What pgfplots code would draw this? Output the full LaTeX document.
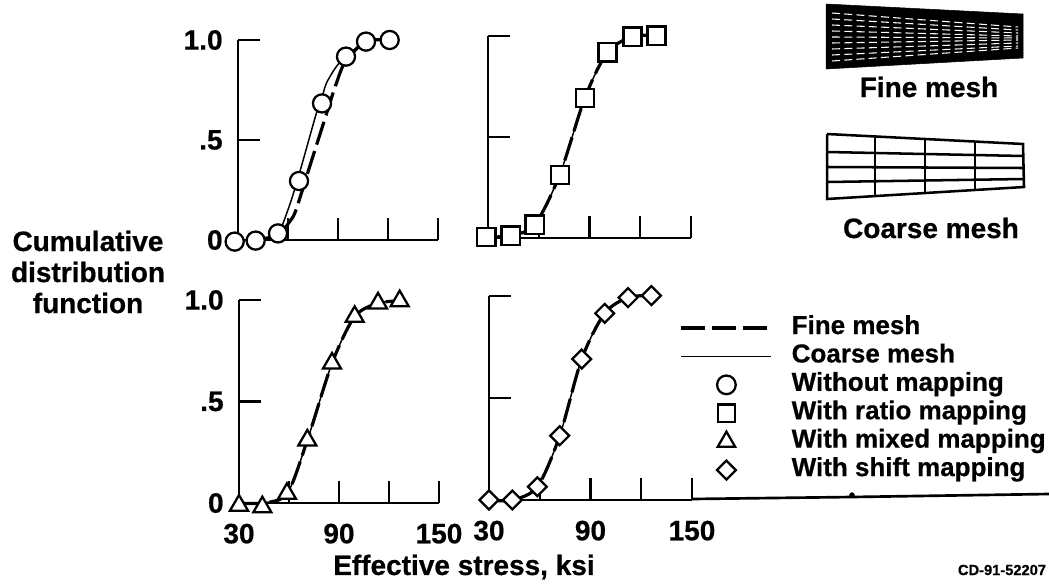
\documentclass[border=0pt]{standalone}
\usepackage{fontspec}
\setmainfont{Liberation Sans}[BoldFeatures={FakeBold=0.6}]
\usepackage{pgfplots}
\pgfplotsset{compat=1.18}

% 1 px of the reference = 0.75pt, y counted up from the bottom of the page (586 - py)
\pgfplotsset{
  panel/.style={
    scale only axis,
    width=150pt, height=150pt,
    xmin=30, xmax=150, ymin=0, ymax=1,
    clip=false, axis on top,
    axis x line=bottom, axis y line=left,
    axis line style={-, line width=2pt},
    tick style={black, line width=1.7pt},
    tick align=inside,
    major tick length=16.5pt,
    ytick={0,0.5,1}, yticklabels={0,.5,1.0},
    xtick={30,60,90,120,150}, xticklabels={},
    tick label style={font=\fontsize{21}{21}\selectfont\bfseries},
    yticklabel style={xshift=-8pt},
    xticklabel style={yshift=-12pt},
  },
  lower/.style={xticklabels={30,,90,,150}},
  nolabels/.style={yticklabels={}},
  coarse/.style={smooth, black, line width=1.1pt, no marks, forget plot},
  fine/.style={smooth, black, line width=2.4pt, no marks, forget plot,
    dash pattern=on 18pt off 5pt},
  pts/.style={only marks, black, line width=1.7pt, mark options={fill=white}, forget plot},
}

\begin{document}
\begin{tikzpicture}[x=0.75pt,y=0.75pt]
\useasboundingbox (0,0) rectangle (1049,586);

% without mapping
\begin{axis}[panel, at={(178.5pt,259.5pt)}, anchor=south west]
\addplot[coarse] coordinates {(28,0) (40.6,0) (54,0.03) (57,0.083) (62,0.2) (66,0.31) (68,0.367) (77,0.633) (80,0.70) (83,0.783) (89,0.867) (94.8,0.917) (106.8,0.992) (121,1)};
\addplot[fine] coordinates {(40.6,0) (54,0.025) (61,0.092) (64,0.133) (68,0.233) (73,0.367) (80,0.55) (86,0.708) (89,0.783) (94.4,0.892) (106.6,0.992) (121,1)};
\addplot[pts, mark=*, mark size=6.8pt] coordinates {(28,-0.008) (40.6,-0.003) (54,0.033) (66.6,0.295) (80.4,0.683) (94.8,0.917) (106.8,0.992) (121,1)};
\end{axis}

% ratio mapping
\begin{axis}[panel, nolabels, at={(366pt,261pt)}, anchor=south west, width=152.25pt, height=151.5pt]
\addplot[coarse] coordinates {(29,0.005) (43.4,0.012) (57.6,0.066) (72.4,0.313) (87.2,0.692) (100.6,0.919) (115.4,0.997) (129.6,1.002)};
\addplot[fine] coordinates {(29,0.005) (43.4,0.012) (57.6,0.066) (72.4,0.313) (87.2,0.692) (100.6,0.919) (115.4,0.997) (129.6,1.002)};
\addplot[pts, mark=square*, mark size=6.8pt] coordinates {(29,0.005) (43.4,0.012) (57.6,0.066) (72.4,0.313) (87.2,0.692) (100.6,0.919) (115.4,0.997) (129.6,1.002)};
\end{axis}

% mixed mapping
\begin{axis}[panel, lower, at={(179.25pt,62.25pt)}, anchor=south west, height=152.25pt]
\addplot[coarse] coordinates {(30,0) (44,0) (58.8,0.046) (71,0.309) (85.8,0.688) (99.4,0.918) (113.4,0.984) (126.4,0.995)};
\addplot[fine] coordinates {(30,0) (44,0) (58.8,0.046) (71,0.309) (85.8,0.688) (99.4,0.918) (113.4,0.984) (126.4,0.995)};
\addplot[pts, mark=triangle*, mark size=7.8pt] coordinates {(30,-0.012) (44,-0.02) (58.8,0.046) (71,0.309) (85.8,0.688) (99.4,0.918) (113.4,0.984) (126.4,0.995)};
\end{axis}

% shift mapping, carries the legend
\begin{axis}[panel, lower, nolabels, at={(366.75pt,64.5pt)}, anchor=south west, width=152.25pt, height=153pt,
  legend style={at={(rel axis cs:0.94,0.905)}, anchor=north west, draw=none, fill=none,
    inner sep=0pt, outer sep=0pt, row sep=2.3pt, column sep=12pt, legend cell align=left,
    font=\fontsize{19.5}{21}\selectfont\bfseries,
    nodes={inner ysep=0pt, text height=14pt, text depth=5pt}},
  legend image code/.code={\draw[mark repeat=2,mark phase=2,#1] plot coordinates {(0pt,0pt) (33.75pt,0pt) (67.5pt,0pt)};}]
\addplot[coarse] coordinates {(30,0) (43.8,0) (58.6,0.065) (71.8,0.315) (84.8,0.691) (98.4,0.915) (112.2,0.992) (126,1.002)};
\addplot[fine] coordinates {(30,0) (43.8,0) (58.6,0.065) (71.8,0.315) (84.8,0.691) (98.4,0.915) (112.2,0.992) (126,1.002)};
\addplot[pts, mark=square*, mark size=5pt, mark options={rotate=45, fill=white}] coordinates {(30,0) (43.8,0) (58.6,0.065) (71.8,0.315) (84.8,0.691) (98.4,0.915) (112.2,0.992) (126,1.002)};
\addlegendimage{black, line width=2.4pt, dash pattern=on 18pt off 5pt}
\addlegendentry{Fine mesh}
\addlegendimage{black, line width=1.1pt}
\addlegendentry{Coarse mesh}
\addlegendimage{only marks, black, line width=1.7pt, mark=*, mark size=7pt, mark options={fill=white}}
\addlegendentry{Without mapping}
\addlegendimage{only marks, black, line width=1.7pt, mark=square*, mark size=6.5pt, mark options={fill=white}}
\addlegendentry{With ratio mapping}
\addlegendimage{only marks, black, line width=1.7pt, mark=triangle*, mark size=7.5pt, mark options={fill=white}}
\addlegendentry{With mixed mapping}
\addlegendimage{only marks, black, line width=1.7pt, mark=square*, mark size=5pt, mark options={rotate=45, fill=white}}
\addlegendentry{With shift mapping}
\end{axis}

% mesh sketches and the long baseline, in reference pixels
\begin{axis}[scale only axis, width=786.75pt, height=439.5pt, at={(0pt,0pt)}, anchor=south west,
  hide axis, clip=false, xmin=0, xmax=1049, ymin=0, ymax=586, y dir=reverse]
\addplot[black, line width=2pt] coordinates {(692,499) (852,497) (1049,494)};
\addplot[only marks, black, mark=*, mark size=1.8pt] coordinates {(852,495)};
% fine mesh
\addplot[fill=black, draw=black] coordinates {(826,4) (1023,14) (1023,58) (826,69)} -- cycle;
\addplot[white, line width=0.8pt, dash pattern=on 6pt off 3.2pt] coordinates {(832,13) (1018,27)};
\addplot[white, line width=0.8pt, dash pattern=on 6pt off 3.2pt] coordinates {(832,19) (1018,30)};
\addplot[white, line width=0.8pt, dash pattern=on 6pt off 3.2pt] coordinates {(832,25) (1018,33)};
\addplot[white, line width=0.8pt, dash pattern=on 6pt off 3.2pt] coordinates {(832,31) (1018,36)};
\addplot[white, line width=0.8pt, dash pattern=on 6pt off 3.2pt] coordinates {(832,37) (1018,38)};
\addplot[white, line width=0.8pt, dash pattern=on 6pt off 3.2pt] coordinates {(832,43) (1018,40)};
\addplot[white, line width=0.8pt, dash pattern=on 6pt off 3.2pt] coordinates {(832,49) (1018,43)};
\addplot[white, line width=0.8pt, dash pattern=on 6pt off 3.2pt] coordinates {(832,55) (1018,46)};
\addplot[white, line width=0.8pt, dash pattern=on 6pt off 3.2pt] coordinates {(832,61) (1018,48)};
% coarse mesh
\addplot[black, line width=1.9pt] coordinates {(827,134) (1023,144) (1024,187) (827,199) (827,134)};
\addplot[black, line width=1.9pt] coordinates {(827,152) (1023,156)};
\addplot[black, line width=1.9pt] coordinates {(827,167) (1023,168)};
\addplot[black, line width=1.9pt] coordinates {(827,182) (1023,179)};
\addplot[black, line width=1.9pt] coordinates {(875,136) (875,196)};
\addplot[black, line width=1.9pt] coordinates {(925,139) (925,193)};
\addplot[black, line width=1.9pt] coordinates {(975,141) (975,190)};
\end{axis}

\tikzset{lbl/.style={font=\fontsize{21}{21}\selectfont\bfseries, inner sep=0pt}}
\node[lbl] at (929,499) {Fine mesh};
\node[lbl] at (931,358) {Coarse mesh};
\node[lbl] at (88,345) {Cumulative};
\node[lbl] at (88,314) {distribution};
\node[lbl] at (88,283) {function};
\node[lbl] at (464,19) {Effective stress, ksi};
\node[font=\fontsize{11}{11}\selectfont\bfseries, inner sep=0pt] at (1002,16) {CD-91-52207};
\end{tikzpicture}
\end{document}
